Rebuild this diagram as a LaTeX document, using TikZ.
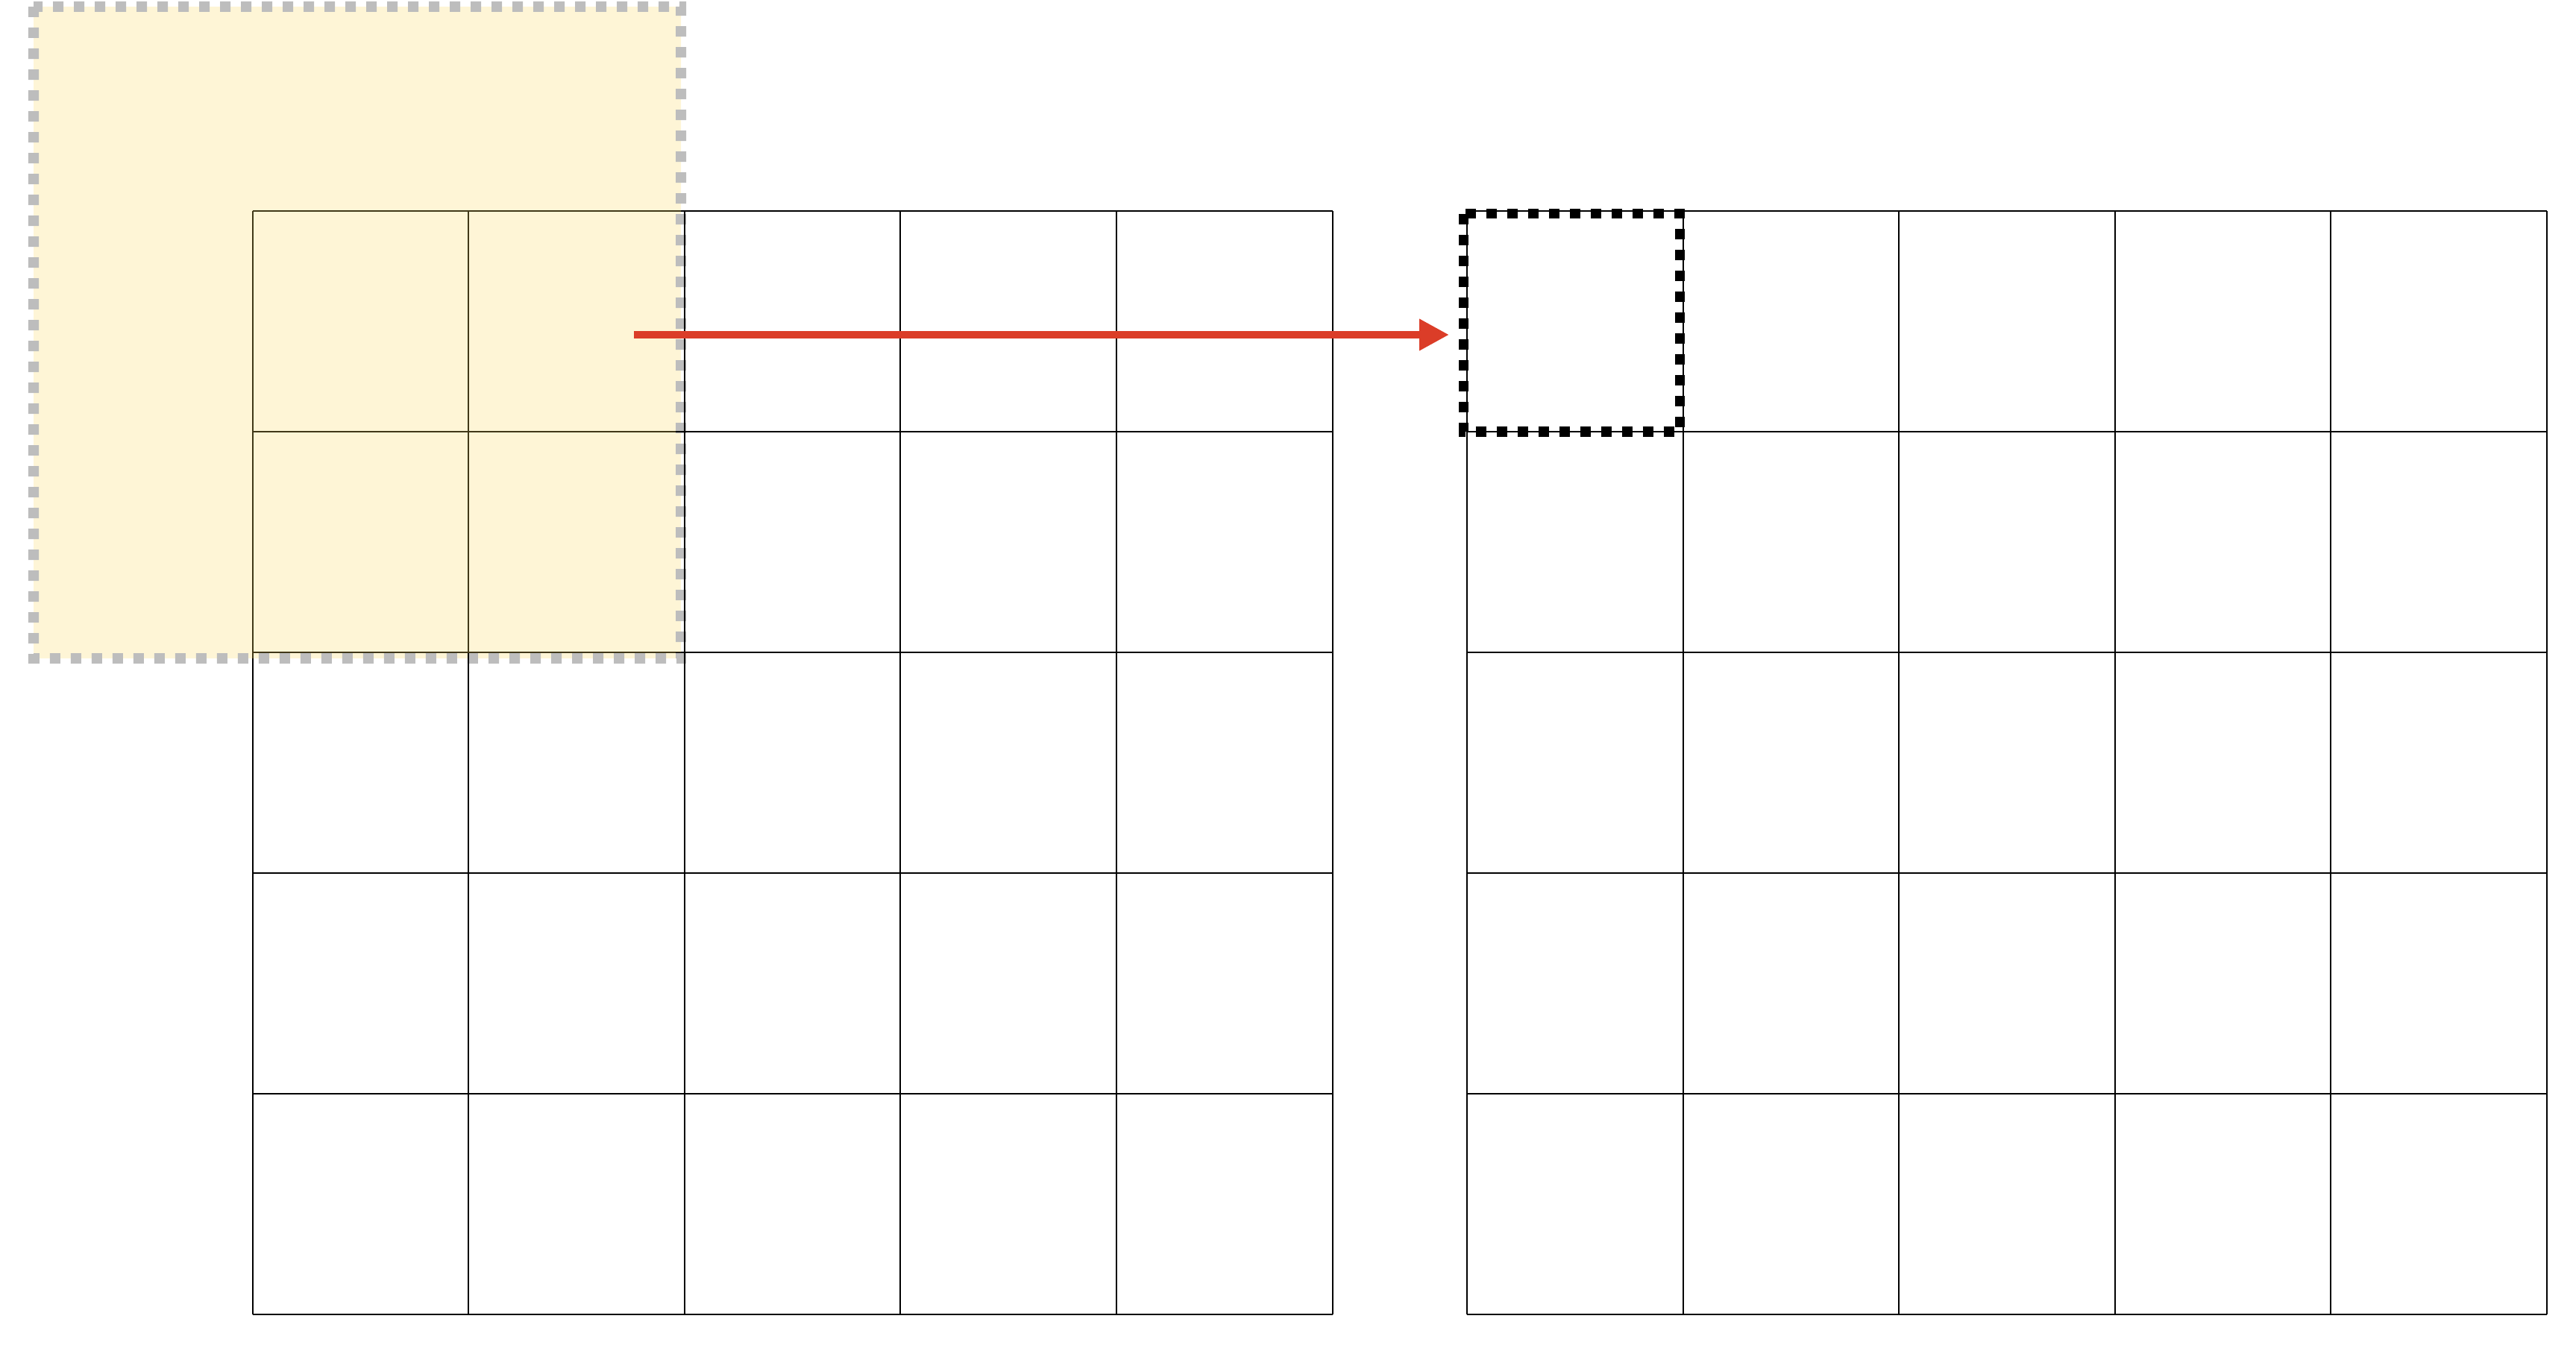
\documentclass[tikz,border=0pt]{standalone}
\usetikzlibrary{arrows.meta}
\definecolor{boxyellow}{RGB}{250,218,95}
\definecolor{arrowred}{RGB}{219,61,40}
\begin{document}
\begin{tikzpicture}[
	gridline/.style={line width=0.02cm, xstep=2.896, ystep=2.959},
	window/.style={fill=boxyellow, draw=black, line width=0.14cm, dash pattern=on 0.14cm off 0.14cm},
	target/.style={draw=black, line width=0.135cm, dash pattern=on 0.14cm off 0.14cm},
	slide/.style={arrowred, line width=0.1cm, -{Triangle[length=0.4cm, width=0.4cm]}}]
	\useasboundingbox (0,0) rectangle (34.54,-18.04);
	\draw[gridline, shift={(3.386,-17.627)}] (0,0) grid (14.481,14.796);
	\draw[gridline, shift={(19.67,-17.627)}] (0,0) grid (14.481,14.796);
	\begin{scope}[transparency group, opacity=0.26]
	\filldraw[window] (0.45,-0.09) rectangle (9.13,-8.83);
	\end{scope}
	\draw[target] (19.627,-2.867) rectangle (22.527,-5.788);
	\coordinate (src) at (8.50,-4.49);
	\coordinate (dst) at (19.43,-4.49);
	\draw[slide] (src) -- (dst);
\end{tikzpicture}
\end{document}
